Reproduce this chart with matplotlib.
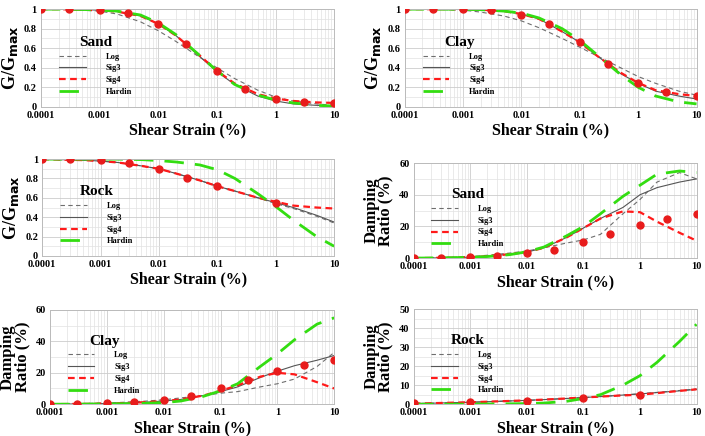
import numpy as np
import matplotlib
matplotlib.use("Agg")
import matplotlib.pyplot as plt
from matplotlib.ticker import LogLocator, FixedLocator, NullFormatter

plt.rcParams['font.family'] = ['Liberation Serif', 'DejaVu Serif']
plt.rcParams['font.weight'] = 'bold'

# strain grid for curves (%), and test points
strain = [1e-4, 2e-4, 5e-4, 1e-3, 2e-3, 5e-3, 0.01, 0.02, 0.05, 0.1, 0.2, 0.5, 1, 2, 5, 10]
test_strain = [1e-4, 3e-4, 1e-3, 3e-3, 0.01, 0.03, 0.1, 0.3, 1, 3, 10]

# Sand G/Gmax
sand_g_log = [1.0, 0.998, 0.99, 0.98, 0.95, 0.87, 0.78, 0.67, 0.51, 0.40, 0.29, 0.17, 0.10, 0.06, 0.03, 0.015]
sand_g_sig3 = [1.0, 1.0, 0.995, 0.99, 0.975, 0.93, 0.85, 0.73, 0.52, 0.36, 0.23, 0.11, 0.06, 0.03, 0.015, 0.01]
sand_g_sig4 = [1.0, 1.0, 0.995, 0.99, 0.975, 0.93, 0.85, 0.73, 0.53, 0.37, 0.24, 0.13, 0.085, 0.06, 0.045, 0.04]
sand_g_hardin = [1.0, 1.0, 0.997, 0.99, 0.98, 0.94, 0.86, 0.74, 0.53, 0.37, 0.23, 0.12, 0.07, 0.04, 0.015, 0.008]
sand_g_test = [1.0, 1.0, 0.99, 0.96, 0.85, 0.64, 0.37, 0.18, 0.08, 0.05, 0.04]

# Clay G/Gmax
clay_g_log = [1.0, 1.0, 0.995, 0.99, 0.97, 0.93, 0.88, 0.81, 0.70, 0.61, 0.52, 0.40, 0.31, 0.24, 0.16, 0.12]
clay_g_sig3 = [1.0, 1.0, 1.0, 1.0, 0.995, 0.98, 0.95, 0.90, 0.77, 0.66, 0.52, 0.34, 0.24, 0.16, 0.11, 0.08]
clay_g_sig4 = [1.0, 1.0, 1.0, 1.0, 0.995, 0.98, 0.95, 0.90, 0.77, 0.66, 0.52, 0.35, 0.245, 0.17, 0.13, 0.11]
clay_g_hardin = [1.0, 1.0, 1.0, 0.998, 0.995, 0.98, 0.96, 0.91, 0.80, 0.68, 0.53, 0.33, 0.20, 0.11, 0.05, 0.03]
clay_g_test = [1.0, 1.0, 1.0, 0.99, 0.94, 0.85, 0.66, 0.44, 0.24, 0.15, 0.11]

# Rock G/Gmax
rock_g_log = [1.0, 0.995, 0.99, 0.98, 0.965, 0.93, 0.90, 0.85, 0.78, 0.72, 0.67, 0.60, 0.54, 0.49, 0.41, 0.34]
rock_g_sig3 = [1.0, 0.995, 0.99, 0.98, 0.965, 0.93, 0.90, 0.85, 0.78, 0.72, 0.67, 0.60, 0.55, 0.50, 0.42, 0.35]
rock_g_sig4 = [1.0, 0.995, 0.99, 0.98, 0.965, 0.93, 0.90, 0.85, 0.78, 0.72, 0.67, 0.60, 0.56, 0.52, 0.50, 0.49]
rock_g_hardin = [1.0, 1.0, 1.0, 1.0, 1.0, 0.995, 0.985, 0.97, 0.94, 0.89, 0.80, 0.64, 0.51, 0.37, 0.20, 0.10]
rock_g_test = [1.0, 1.0, 0.99, 0.955, 0.90, 0.81, 0.725, np.nan, 0.55, np.nan, np.nan]

# Sand damping (%)
sand_d_log = [0.0, 0.2, 0.6, 1.0, 1.8, 3.2, 4.5, 6.5, 9.5, 11.5, 15.0, 28.0, 37.0, 48.0, 54.0, 50.0]
sand_d_sig3 = [0.0, 0.1, 0.3, 0.6, 1.2, 2.5, 3.8, 6.5, 13.0, 19.0, 25.0, 32.0, 40.0, 44.5, 48.0, 50.0]
sand_d_sig4 = [0.0, 0.1, 0.3, 0.6, 1.2, 2.5, 3.8, 6.5, 13.0, 19.0, 25.0, 29.5, 29.0, 23.0, 16.0, 11.0]
sand_d_hardin = [0.0, 0.1, 0.3, 0.5, 1.0, 2.2, 4.0, 7.0, 14.0, 20.0, 28.0, 39.0, 46.0, 53.0, 55.0, 54.0]
sand_d_test = [0.0, 0.3, 0.7, 1.2, 3.0, 5.0, 10.0, 15.5, 21.0, 25.0, 28.0]

# Clay damping (%)
clay_d_log = [0.0, 0.2, 0.5, 0.8, 1.2, 2.0, 2.8, 4.0, 5.5, 7.0, 8.0, 11.0, 13.0, 16.0, 24.0, 33.0]
clay_d_sig3 = [0.0, 0.1, 0.2, 0.4, 0.7, 1.3, 2.0, 3.0, 5.5, 8.0, 11.0, 17.0, 21.0, 24.5, 28.0, 31.0]
clay_d_sig4 = [0.0, 0.1, 0.2, 0.4, 0.7, 1.3, 2.0, 3.0, 5.5, 8.5, 12.0, 17.5, 20.0, 19.0, 14.0, 10.0]
clay_d_hardin = [0.0, 0.0, 0.1, 0.2, 0.3, 0.6, 1.0, 2.0, 5.0, 8.5, 13.0, 24.0, 32.0, 41.0, 51.0, 55.0]
clay_d_test = [0.0, 0.3, 0.6, 1.2, 2.7, 5.0, 10.0, 15.5, 21.0, 25.0, 28.0]

# Rock damping (%)
rock_d_log = [0.3, 0.5, 0.8, 1.0, 1.3, 1.7, 2.0, 2.4, 3.0, 3.5, 4.0, 4.8, 5.5, 6.2, 7.2, 8.0]
rock_d_sig3 = [0.3, 0.5, 0.8, 1.0, 1.3, 1.7, 2.0, 2.4, 3.0, 3.5, 4.0, 4.8, 5.4, 6.1, 7.0, 7.8]
rock_d_sig4 = [0.3, 0.5, 0.8, 1.0, 1.3, 1.7, 2.0, 2.4, 3.0, 3.5, 4.0, 4.6, 5.0, 5.8, 7.0, 7.8]
rock_d_hardin = [0.0, 0.0, 0.0, 0.05, 0.1, 0.2, 0.3, 0.6, 1.5, 3.0, 5.0, 10.0, 15.0, 22.0, 33.0, 42.0]
rock_d_test = [0.7, np.nan, 1.0, np.nan, 1.8, np.nan, 3.3, np.nan, 4.7, np.nan, np.nan]

panels = [
    ("Sand", sand_g_log, sand_g_sig3, sand_g_sig4, sand_g_hardin, sand_g_test, "g"),
    ("Clay", clay_g_log, clay_g_sig3, clay_g_sig4, clay_g_hardin, clay_g_test, "g"),
    ("Rock", rock_g_log, rock_g_sig3, rock_g_sig4, rock_g_hardin, rock_g_test, "g"),
    ("Sand", sand_d_log, sand_d_sig3, sand_d_sig4, sand_d_hardin, sand_d_test, "d60"),
    ("Clay", clay_d_log, clay_d_sig3, clay_d_sig4, clay_d_hardin, clay_d_test, "d60"),
    ("Rock", rock_d_log, rock_d_sig3, rock_d_sig4, rock_d_hardin, rock_d_test, "d50"),
]

# axes rectangles [left, bottom, width, height]
rects = [
    [0.058, 0.755, 0.416, 0.224],
    [0.574, 0.755, 0.414, 0.224],
    [0.060, 0.413, 0.414, 0.222],
    [0.587, 0.408, 0.401, 0.218],
    [0.071, 0.073, 0.403, 0.216],
    [0.587, 0.073, 0.401, 0.218],
]

xticks = [1e-4, 1e-3, 1e-2, 1e-1, 1, 10]
xticklabels = ["0.0001", "0.001", "0.01", "0.1", "1", "10"]

fig = plt.figure(figsize=(7.05, 4.36), dpi=100)

for (name, log_, sig3, sig4, hardin, test, kind), rect in zip(panels, rects):
    ax = fig.add_axes(rect)
    ax.set_xscale("log")
    ax.plot(strain, log_, color="#6e6e6e", lw=0.8, dashes=(4, 3), label="Log")
    ax.plot(strain, sig3, color="#555555", lw=0.8, label="Sig3")
    ax.plot(strain, sig4, color="#ff1a1a", lw=1.6, dashes=(3, 2), label="Sig4")
    ax.plot(strain, hardin, color="#33dd11", lw=2.0, dashes=(7, 4), label="Hardin")
    ax.plot(test_strain, test, "o", color="#e81c1c", ms=5, ls="none", zorder=5)

    ax.set_xlim(1e-4, 10)
    ax.set_xticks(xticks)
    ax.set_xticklabels(xticklabels)
    ax.xaxis.set_minor_locator(LogLocator(base=10, subs=np.arange(2, 10)))
    ax.xaxis.set_minor_formatter(NullFormatter())

    if kind == "g":
        ax.set_ylim(0, 1)
        ax.set_yticks([0, 0.2, 0.4, 0.6, 0.8, 1.0])
        ax.set_yticklabels(["0", "0.2", "0.4", "0.6", "0.8", "1"])
        ax.yaxis.set_minor_locator(FixedLocator(np.arange(0.1, 1.0, 0.2)))
        ax.set_ylabel("G/G$_{\\mathbf{max}}$", fontsize=13, fontweight="bold", labelpad=3)
    else:
        top = 60 if kind == "d60" else 50
        step = 20 if kind == "d60" else 10
        ax.set_ylim(0, top)
        ax.set_yticks(np.arange(0, top + 1, step))
        ax.yaxis.set_minor_locator(FixedLocator(np.arange(step / 2, top, step)))
        ax.set_ylabel("Damping\nRatio (%)", fontsize=12, fontweight="bold", labelpad=4, linespacing=0.85)

    ax.set_xlabel("Shear Strain (%)", fontsize=11.5, fontweight="bold", labelpad=2)
    ax.grid(True, which="major", color="#cccccc", lw=0.6)
    ax.grid(True, which="minor", color="#e2e2e2", lw=0.5)
    ax.tick_params(which="both", length=0, labelsize=7.5, pad=3)
    for lab in ax.get_xticklabels() + ax.get_yticklabels():
        lab.set_fontweight("bold")
    for sp in ax.spines.values():
        sp.set_color("#bbbbbb")
        sp.set_linewidth(0.7)

    leg = ax.legend(loc="center left", bbox_to_anchor=(0.05, 0.42), frameon=False,
                    title=name, fontsize=6, handlelength=3.2, handletextpad=2.4,
                    labelspacing=0.45, borderaxespad=0)
    leg.get_title().set_fontsize(11)
    leg.get_title().set_fontweight("bold")
    for t in leg.get_texts():
        t.set_fontweight("bold")

fig.savefig("out.png", dpi=100)
